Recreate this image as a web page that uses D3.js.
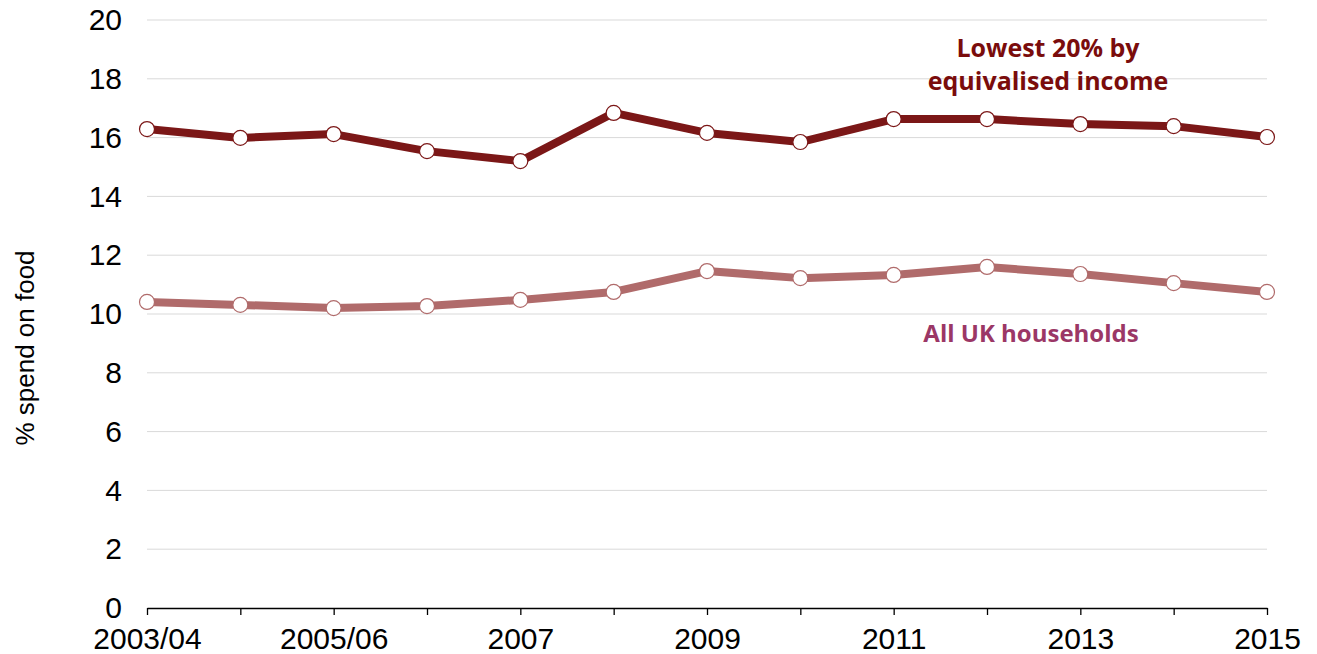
<!DOCTYPE html>
<html>
<head>
<meta charset="utf-8">
<script src="https://cdn.jsdelivr.net/npm/d3@7"></script>
<style>
  body { margin: 0; background: #fff; }
  svg { display: block; }
</style>
</head>
<body>
<svg id="chart" width="1317" height="654"></svg>
<script>
const categories = ["2003/04","2004/05","2005/06","2006","2007","2008","2009","2010","2011","2012","2013","2014","2015"];
const tickLabels = ["2003/04","","2005/06","","2007","","2009","","2011","","2013","","2015"];
const lowest20 = [16.29, 15.99, 16.12, 15.54, 15.2, 16.84, 16.16, 15.85, 16.63, 16.63, 16.46, 16.39, 16.02];
const allUK = [10.41, 10.31, 10.2, 10.27, 10.48, 10.75, 11.46, 11.22, 11.33, 11.6, 11.36, 11.05, 10.75];
const yTicks = [0, 2, 4, 6, 8, 10, 12, 14, 16, 18, 20];

(function () {
const svg = d3.select("#chart");
const mLeft = 147, mRight = 1267, mTop = 20, mBottom = 608;

const x = d3.scalePoint().domain(categories).range([mLeft, mRight]);
const y = d3.scaleLinear().domain([0, 20]).range([mBottom, mTop]);

// gridlines
svg.append("g").selectAll("line").data(yTicks.filter(d => d > 0)).join("line")
  .attr("x1", mLeft).attr("x2", mRight)
  .attr("y1", d => y(d)).attr("y2", d => y(d))
  .attr("stroke", "#d9d9d9").attr("stroke-width", 1);

// y axis labels
const yAxis = d3.axisLeft(y).tickValues(yTicks).tickSize(0).tickPadding(25);
const gy = svg.append("g").attr("transform", `translate(${mLeft},0)`).call(yAxis);
gy.select(".domain").remove();
gy.selectAll("text").attr("font-family", "Liberation Sans, Arial, sans-serif").attr("font-size", 30).attr("fill", "#000");

// x axis
const xAxis = d3.axisBottom(x).tickSizeInner(7).tickSizeOuter(0).tickPadding(13)
  .tickFormat((d, i) => tickLabels[i]);
const gx = svg.append("g").attr("transform", `translate(0,${mBottom})`).call(xAxis);
gx.select(".domain").attr("stroke", "#000").attr("stroke-width", 1.3);
gx.selectAll(".tick line").attr("stroke", "#000").attr("stroke-width", 1.3);
gx.selectAll("text").attr("font-family", "Liberation Sans, Arial, sans-serif").attr("font-size", 30).attr("fill", "#000");

// y axis title
svg.append("text")
  .attr("transform", `translate(34,${(mTop + mBottom) / 2 + 34}) rotate(-90)`)
  .attr("text-anchor", "middle")
  .attr("font-family", "Liberation Sans, Arial, sans-serif")
  .attr("font-size", 26).attr("fill", "#000")
  .text("% spend on food");

const line = d3.line().x((d, i) => x(categories[i])).y(d => y(d));

function drawSeries(values, color) {
  svg.append("path").datum(values)
    .attr("d", line).attr("fill", "none")
    .attr("stroke", color).attr("stroke-width", 8).attr("stroke-linejoin", "round");
  svg.append("g").selectAll("circle").data(values).join("circle")
    .attr("cx", (d, i) => x(categories[i])).attr("cy", d => y(d))
    .attr("r", 7.5).attr("fill", "#fff")
    .attr("stroke", color).attr("stroke-width", 1.2);
}
drawSeries(allUK, "#b06b6b");
drawSeries(lowest20, "#7b1717");

// annotations
const ann = svg.append("text")
  .attr("text-anchor", "middle")
  .attr("font-family", "Open Sans, sans-serif").attr("font-weight", "bold")
  .attr("font-size", 25).attr("fill", "#7a0c0c");
ann.append("tspan").attr("x", 1048).attr("y", 57).text("Lowest 20% by");
ann.append("tspan").attr("x", 1048).attr("y", 90).text("equivalised income");

svg.append("text")
  .attr("x", 1031).attr("y", 342)
  .attr("text-anchor", "middle")
  .attr("font-family", "Open Sans, sans-serif").attr("font-weight", "bold")
  .attr("font-size", 24).attr("fill", "#9b3766")
  .text("All UK households");
})();
</script>
</body>
</html>
